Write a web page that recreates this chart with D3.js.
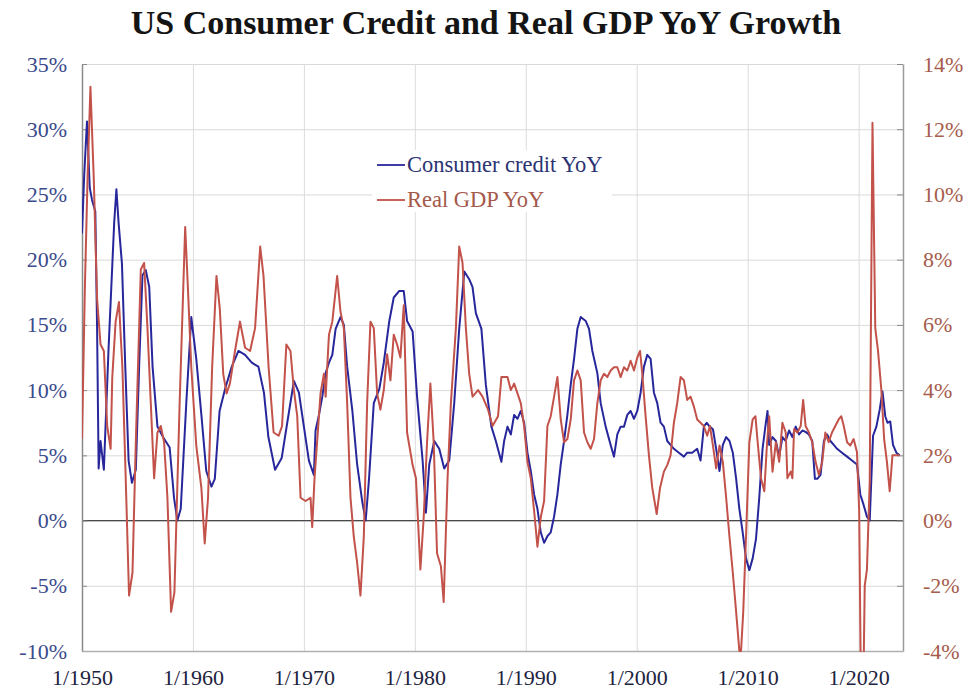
<!DOCTYPE html>
<html>
<head>
<meta charset="utf-8">
<script src="https://cdn.jsdelivr.net/npm/d3@7/dist/d3.min.js"></script>
<style>
  body { margin: 0; background: #fff; }
  svg { display: block; }
  text { font-family: "Liberation Serif", "Times New Roman", serif; }
</style>
</head>
<body>
<svg id="chart" width="966" height="689"></svg>
<script>
// Consumer credit, year-over-year % change (left axis)
const creditYears = [
  1950.0, 1950.2, 1950.45, 1950.7, 1950.9, 1951.2, 1951.36, 1951.5, 1951.67, 1951.97,
  1952.4, 1952.9, 1953.1, 1953.3, 1953.6, 1953.9, 1954.2, 1954.5, 1954.85, 1955.15,
  1955.45, 1955.75, 1956.06, 1956.36, 1956.8, 1957.3, 1957.9, 1958.3, 1958.6, 1958.9,
  1959.4, 1959.85, 1960.3, 1960.76, 1961.2, 1961.67, 1961.97, 1962.4, 1962.9, 1963.5,
  1964.1, 1964.7, 1965.3, 1965.9, 1966.4, 1966.8, 1967.4, 1968.0, 1968.5, 1969.1,
  1969.55, 1970.0, 1970.45, 1970.9, 1971.05, 1971.36, 1971.66, 1971.96, 1972.26, 1972.56,
  1972.86, 1973.3, 1973.6, 1973.9, 1974.37, 1974.8, 1975.27, 1975.57, 1975.87, 1976.3,
  1976.8, 1977.2, 1977.7, 1978.1, 1978.6, 1979.0, 1979.3, 1979.8, 1980.2, 1980.7,
  1981.0, 1981.3, 1981.75, 1982.2, 1982.65, 1983.1, 1983.55, 1984.0, 1984.46, 1984.9,
  1985.2, 1985.5, 1986.0, 1986.4, 1986.9, 1987.3, 1987.8, 1988.05, 1988.35, 1988.65,
  1988.95, 1989.25, 1989.55, 1989.85, 1990.15, 1990.45, 1990.75, 1991.05, 1991.35, 1991.65,
  1991.95, 1992.25, 1992.55, 1992.85, 1993.15, 1993.45, 1993.75, 1994.05, 1994.35, 1994.65,
  1994.95, 1995.4, 1995.7, 1996.0, 1996.45, 1996.75, 1997.2, 1997.65, 1997.95, 1998.25,
  1998.55, 1998.85, 1999.15, 1999.45, 1999.75, 2000.05, 2000.35, 2000.65, 2000.95, 2001.25,
  2001.55, 2001.85, 2002.15, 2002.45, 2002.75, 2003.05, 2003.35, 2003.8, 2004.25, 2004.55,
  2005.0, 2005.45, 2005.75, 2006.05, 2006.3, 2006.57, 2006.87, 2007.16, 2007.46, 2007.76,
  2008.06, 2008.36, 2008.66, 2008.96, 2009.25, 2009.55, 2009.85, 2010.15, 2010.45, 2010.75,
  2011.04, 2011.34, 2011.64, 2011.79, 2011.94, 2012.24, 2012.54, 2012.84, 2013.13, 2013.43,
  2013.73, 2014.03, 2014.33, 2014.63, 2014.93, 2015.22, 2015.52, 2015.82, 2016.06, 2016.27,
  2016.57, 2016.87, 2017.16, 2017.46, 2017.76, 2018.06, 2018.5, 2018.96, 2019.4, 2019.85,
  2020.15, 2020.45, 2020.75, 2021.0, 2021.3, 2021.6, 2021.9, 2022.15, 2022.4, 2022.6,
  2022.85, 2023.1, 2023.4, 2023.7
];
const creditYoY = [
  22.0, 26.5, 30.6, 25.5, 24.6, 23.7, 14.7, 4.0, 6.1, 3.9,
  13.3, 22.8, 25.4, 22.8, 19.7, 11.8, 4.6, 2.9, 3.9, 11.8,
  18.8, 19.2, 17.9, 11.8, 7.2, 6.4, 5.6, 1.7, 0.0, 0.9,
  9.0, 15.6, 12.4, 8.1, 3.8, 2.6, 3.2, 8.4, 10.1, 11.8,
  13.0, 12.7, 12.1, 11.8, 9.8, 6.4, 3.9, 4.8, 7.5, 10.7,
  9.8, 7.2, 4.6, 3.5, 6.9, 8.1, 9.5, 11.3, 12.1, 12.7,
  14.7, 15.6, 15.0, 11.8, 8.4, 4.3, 1.4, 0.0, 3.2, 9.0,
  10.1, 12.1, 15.3, 17.1, 17.6, 17.6, 15.3, 14.5, 9.5, 4.6,
  0.6, 4.3, 6.1, 5.5, 4.0, 4.6, 9.0, 14.7, 19.1, 18.5,
  17.9, 15.9, 14.7, 10.4, 7.2, 6.1, 4.5, 6.1, 7.2, 6.6,
  8.1, 7.8, 8.4, 7.5, 5.2, 3.8, 2.0, 0.9, -0.9, -1.7,
  -1.2, -0.9, 0.3, 2.0, 4.3, 6.1, 8.1, 10.4, 12.4, 14.7,
  15.6, 15.3, 14.7, 13.0, 11.3, 9.0, 7.2, 5.8, 4.9, 6.6,
  7.2, 7.2, 8.1, 8.4, 7.8, 8.4, 9.8, 11.8, 12.7, 12.4,
  9.8, 9.0, 7.5, 7.2, 6.1, 5.8, 5.5, 5.2, 4.9, 5.2,
  5.2, 5.5, 4.6, 7.2, 7.5, 7.2, 7.0, 5.5, 3.8, 5.8,
  6.4, 6.1, 5.2, 3.2, 0.9, -0.9, -2.9, -3.8, -2.9, -1.4,
  1.7, 5.5, 7.5, 8.4, 5.8, 6.4, 6.1, 4.9, 6.4, 6.1,
  6.9, 6.4, 7.2, 6.6, 6.9, 6.8, 6.6, 6.1, 3.2, 3.2,
  3.5, 6.1, 6.6, 6.1, 5.8, 5.5, 5.2, 4.9, 4.6, 4.3,
  2.0, 1.2, 0.3, 0.0, 6.5, 7.2, 8.5, 9.9, 8.0, 7.5,
  7.6, 5.8, 5.2, 5.0
];

// Real GDP, year-over-year % change (right axis)
const gdpYears = [
  1950.0, 1950.25, 1950.5, 1950.76, 1951.06, 1951.36, 1951.67, 1951.97, 1952.27, 1952.58,
  1952.73, 1953.03, 1953.33, 1953.64, 1953.94, 1954.24, 1954.55, 1954.85, 1955.3, 1955.6,
  1955.9, 1956.2, 1956.5, 1956.8, 1957.1, 1957.4, 1957.7, 1958.03, 1958.33, 1958.8,
  1959.3, 1959.55, 1959.85, 1960.3, 1960.76, 1961.06, 1961.36, 1961.73, 1962.12, 1962.42,
  1962.73, 1963.03, 1963.33, 1963.79, 1964.24, 1964.7, 1965.15, 1965.6, 1966.06, 1966.36,
  1966.82, 1967.27, 1967.73, 1968.03, 1968.42, 1968.79, 1969.1, 1969.4, 1969.7, 1970.15,
  1970.6, 1970.75, 1970.96, 1971.5, 1971.8, 1971.96, 1972.26, 1972.56, 1973.0, 1973.3,
  1973.6, 1973.9, 1974.2, 1974.5, 1974.8, 1975.1, 1975.4, 1975.7, 1976.0, 1976.3,
  1976.6, 1976.9, 1977.2, 1977.5, 1977.8, 1978.1, 1978.4, 1978.7, 1979.0, 1979.3,
  1979.8, 1980.1, 1980.5, 1980.8, 1981.1, 1981.4, 1981.7, 1982.0, 1982.35, 1982.6,
  1982.95, 1983.25, 1983.7, 1984.0, 1984.3, 1984.6, 1984.9, 1985.2, 1985.7, 1986.1,
  1986.6, 1987.0, 1987.5, 1987.8, 1988.05, 1988.35, 1988.65, 1988.95, 1989.25, 1989.55,
  1989.85, 1990.15, 1990.45, 1990.75, 1991.05, 1991.35, 1991.65, 1991.95, 1992.25, 1992.55,
  1992.85, 1993.15, 1993.45, 1993.75, 1994.05, 1994.35, 1994.65, 1994.95, 1995.25, 1995.55,
  1995.85, 1996.15, 1996.45, 1996.75, 1997.05, 1997.35, 1997.65, 1997.95, 1998.25, 1998.55,
  1998.85, 1999.15, 1999.45, 1999.75, 2000.05, 2000.3, 2000.5, 2000.8, 2001.1, 2001.4,
  2001.8, 2002.1, 2002.45, 2002.75, 2003.05, 2003.35, 2003.65, 2003.95, 2004.25, 2004.55,
  2004.85, 2005.15, 2005.45, 2005.75, 2006.05, 2006.35, 2006.6, 2006.87, 2007.16, 2007.46,
  2007.76, 2008.06, 2008.36, 2008.66, 2008.96, 2009.25, 2009.4, 2009.6, 2009.85, 2010.15,
  2010.45, 2010.7, 2010.9, 2011.2, 2011.5, 2011.75, 2011.94, 2012.24, 2012.54, 2012.84,
  2013.13, 2013.43, 2013.58, 2013.88, 2014.03, 2014.18, 2014.48, 2014.78, 2015.0, 2015.22,
  2015.52, 2015.82, 2016.12, 2016.42, 2016.72, 2017.0, 2017.3, 2017.6, 2017.9, 2018.2,
  2018.44, 2018.66, 2018.96, 2019.25, 2019.55, 2019.85, 2020.05, 2020.3, 2020.55, 2020.75,
  2021.0, 2021.25, 2021.5, 2021.75, 2022.05, 2022.3, 2022.55, 2022.8, 2023.05, 2023.35,
  2023.7
];
const gdpYoY = [
  2.5, 7.0, 10.5, 13.3, 10.5, 6.8, 5.4, 5.2, 2.9, 2.2,
  4.4, 6.1, 6.7, 4.7, 1.3, -2.3, -1.6, 2.4, 7.7, 7.9,
  5.9, 3.6, 1.3, 2.7, 2.9, 2.4, 0.7, -2.8, -2.2, 3.6,
  9.0, 7.1, 4.7, 2.3, 1.0, -0.7, 0.7, 4.7, 7.5, 6.5,
  4.5, 3.9, 4.2, 5.2, 6.1, 5.3, 5.2, 5.9, 8.4, 7.5,
  4.7, 2.7, 2.6, 2.9, 5.4, 5.2, 4.0, 3.2, 0.7, 0.6,
  0.7, -0.2, 1.3, 3.9, 4.5, 3.8, 5.7, 6.1, 7.5, 6.4,
  5.9, 3.6, 0.7, -0.5, -1.3, -2.3, -0.5, 3.6, 6.1, 5.9,
  3.9, 3.4, 4.0, 5.1, 4.3, 5.7, 5.4, 5.0, 6.6, 2.7,
  1.7, 1.3, -1.5, 0.1, 2.4, 4.2, 2.4, -1.0, -1.4, -2.5,
  1.3, 3.6, 5.9, 8.4, 7.9, 5.9, 4.5, 3.8, 4.0, 3.8,
  3.4, 2.9, 3.2, 4.4, 4.4, 4.4, 4.0, 4.2, 3.9, 3.6,
  2.9, 1.8, 1.3, 0.3, -0.8, 0.1, 0.6, 2.9, 3.2, 3.8,
  4.4, 3.1, 2.4, 2.5, 3.1, 4.3, 4.6, 4.3, 2.7, 2.4,
  2.2, 2.5, 3.6, 4.3, 4.5, 4.4, 4.6, 4.7, 4.7, 4.4,
  4.7, 4.6, 4.9, 4.6, 5.0, 5.2, 4.5, 3.2, 2.0, 1.0,
  0.2, 1.0, 1.5, 1.7, 2.0, 3.0, 3.6, 4.4, 4.3, 3.7,
  3.8, 3.5, 3.1, 3.0, 2.9, 2.6, 2.9, 2.3, 1.6, 2.3,
  1.8, 0.7, -0.5, -1.6, -2.8, -4.0, -4.0, -2.8, -0.5, 2.4,
  3.1, 3.2, 2.4, 1.3, 0.9, 2.4, 3.2, 1.5, 2.4, 1.8,
  3.0, 2.7, 1.3, 1.5, 1.3, 2.8, 2.7, 2.9, 3.7, 2.9,
  2.7, 2.4, 1.8, 1.4, 1.8, 2.7, 2.4, 2.7, 2.9, 3.1,
  3.2, 2.9, 2.4, 2.3, 2.5, 2.1, 0.3, -8.4, -2.0, -1.5,
  1.2, 12.2, 5.9, 5.2, 4.0, 2.5, 1.8, 0.9, 2.0, 2.0,
  2.0
];

// Axis tick values
const leftTicks = [-10, -5, 0, 5, 10, 15, 20, 25, 30, 35];
const rightTicks = [-4, -2, 0, 2, 4, 6, 8, 10, 12, 14];
const decadeTicks = [1950, 1960, 1970, 1980, 1990, 2000, 2010, 2020];

const seriesNames = ["Consumer credit YoY", "Real GDP YoY"];
const creditColor = "#27279b";
const gdpColor = "#c2524a";

const svg = d3.select("#chart");
const plot = { left: 82, right: 903, top: 64, bottom: 651 };

const x = d3.scaleLinear().domain([1950, 2024]).range([plot.left, plot.right]);
const yL = d3.scaleLinear().domain([-10, 35]).range([plot.bottom, plot.top]);
const yR = d3.scaleLinear().domain([-4, 14]).range([plot.bottom, plot.top]);

// Title
svg.append("text")
  .attr("x", 486).attr("y", 34)
  .attr("text-anchor", "middle")
  .attr("font-size", 34).attr("font-weight", "bold")
  .attr("fill", "#141414")
  .text("US Consumer Credit and Real GDP YoY Growth");

// Horizontal gridlines (every 5% on the left scale)
svg.append("g")
  .attr("transform", `translate(${plot.left},0)`)
  .call(d3.axisLeft(yL).tickValues(leftTicks).tickSize(-(plot.right - plot.left)).tickFormat(""))
  .call(g => g.select(".domain").remove())
  .call(g => g.selectAll("line").attr("stroke", "#d9d9d9").attr("stroke-width", 1));

// Vertical gridlines at each decade
svg.append("g")
  .attr("transform", `translate(0,${plot.bottom})`)
  .call(d3.axisBottom(x).tickValues(decadeTicks.slice(1)).tickSize(-(plot.bottom - plot.top)).tickFormat(""))
  .call(g => g.select(".domain").remove())
  .call(g => g.selectAll("line").attr("stroke", "#dcdcdc").attr("stroke-width", 1));

// Zero line
svg.append("line")
  .attr("x1", plot.left).attr("x2", plot.right)
  .attr("y1", yL(0)).attr("y2", yL(0))
  .attr("stroke", "#4a4a4a").attr("stroke-width", 1.3);

// Left axis
const leftAxis = svg.append("g")
  .attr("transform", `translate(${plot.left},0)`)
  .call(d3.axisLeft(yL).tickValues(leftTicks).tickSizeInner(-5).tickSizeOuter(0).tickPadding(15).tickFormat(d => d + "%"));
leftAxis.select(".domain").attr("stroke", "#8a8a8a").attr("stroke-width", 1.5);
leftAxis.selectAll("line").attr("stroke", "#8a8a8a");
leftAxis.selectAll("text").attr("font-size", 22).attr("fill", "#3a4a8c")
  .attr("font-family", "'Liberation Serif', serif");

// Right axis
const rightAxis = svg.append("g")
  .attr("transform", `translate(${plot.right},0)`)
  .call(d3.axisRight(yR).tickValues(rightTicks).tickSizeInner(-6).tickSizeOuter(0).tickPadding(20).tickFormat(d => d + "%"));
rightAxis.select(".domain").attr("stroke", "#9a9a9a").attr("stroke-width", 1.5);
rightAxis.selectAll("line").attr("stroke", "#8a8a8a");
rightAxis.selectAll("text").attr("font-size", 22).attr("fill", "#a65c4c")
  .attr("font-family", "'Liberation Serif', serif");

// Bottom axis
const bottomAxis = svg.append("g")
  .attr("transform", `translate(0,${plot.bottom})`)
  .call(d3.axisBottom(x).tickValues(decadeTicks).tickSize(0).tickPadding(18).tickFormat(d => "1/" + d));
bottomAxis.select(".domain").attr("stroke", "#b0b0b0").attr("stroke-width", 1.5);
bottomAxis.selectAll("text").attr("font-size", 22).attr("fill", "#1d2340")
  .attr("font-family", "'Liberation Serif', serif");

// Series lines, clipped to the plot area
svg.append("clipPath").attr("id", "plot-clip")
  .append("rect")
  .attr("x", plot.left).attr("y", plot.top)
  .attr("width", plot.right - plot.left).attr("height", plot.bottom - plot.top + 1);

const creditData = creditYears.map((t, i) => ({ t, v: creditYoY[i] }));
const gdpData = gdpYears.map((t, i) => ({ t, v: gdpYoY[i] }));

const lines = svg.append("g").attr("clip-path", "url(#plot-clip)");

lines.append("path")
  .datum(creditData)
  .attr("fill", "none")
  .attr("stroke", creditColor)
  .attr("stroke-width", 2)
  .attr("stroke-linejoin", "round")
  .attr("d", d3.line().x(d => x(d.t)).y(d => yL(d.v)));

lines.append("path")
  .datum(gdpData)
  .attr("fill", "none")
  .attr("stroke", gdpColor)
  .attr("stroke-width", 2)
  .attr("stroke-linejoin", "round")
  .attr("d", d3.line().x(d => x(d.t)).y(d => yR(d.v)));

// Legend
const legend = svg.append("g");
legend.append("rect")
  .attr("x", 372).attr("y", 150).attr("width", 240).attr("height", 62)
  .attr("fill", "#fff");
const legendItems = [
  { name: seriesNames[0], color: creditColor, text: "#2b3372", y: 165 },
  { name: seriesNames[1], color: gdpColor, text: "#a4594a", y: 200 }
];
legendItems.forEach(item => {
  legend.append("line")
    .attr("x1", 377).attr("x2", 405)
    .attr("y1", item.y).attr("y2", item.y)
    .attr("stroke", item.color).attr("stroke-width", 1.8);
  legend.append("text")
    .attr("x", 407).attr("y", item.y + 7)
    .attr("font-size", 22.5).attr("fill", item.text)
    .text(item.name);
});
</script>
</body>
</html>
